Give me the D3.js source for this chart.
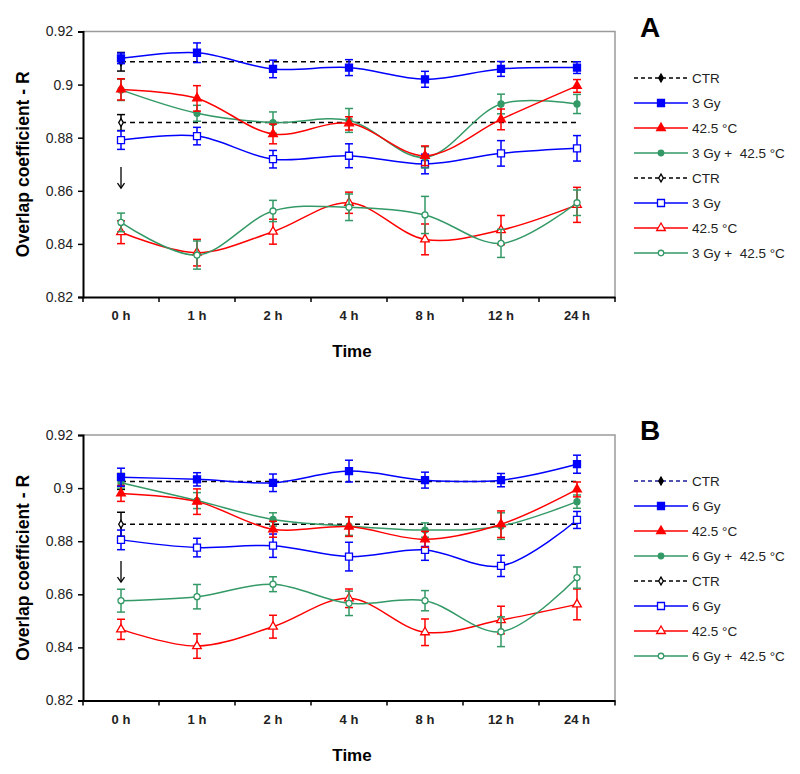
<!DOCTYPE html>
<html><head><meta charset="utf-8">
<script src="https://cdn.jsdelivr.net/npm/d3@7"></script>
<style>body{margin:0;background:#fff}svg{display:block}text{white-space:pre}</style>
</head><body>
<svg id="chart" width="800" height="774"></svg>
<script>
const times = ["0 h","1 h","2 h","4 h","8 h","12 h","24 h"];
const yTicks = [0.82,0.84,0.86,0.88,0.9,0.92];

// Panel A
const aCtrFilled = [0.9086], aCtrFilledErr = [0.0035];
const aCtrOpen = [0.8857], aCtrOpenErr = [0.003];
const a3GyFilled = [0.9099,0.912,0.9059,0.9064,0.902,0.9059,0.9064];
const a3GyFilledErr = [0.002,0.0037,0.0033,0.003,0.003,0.0028,0.0022];
const a425Filled = [0.8982,0.8948,0.8814,0.8854,0.8732,0.8869,0.8995];
const a425FilledErr = [0.004,0.0048,0.0037,0.0025,0.0037,0.0039,0.0024];
const aComboFilled = [0.898,0.8892,0.8857,0.8865,0.8726,0.8927,0.8927];
const aComboFilledErr = [0.004,0.003,0.004,0.0045,0.004,0.0037,0.0036];
const a3GyOpen = [0.8791,0.8806,0.8719,0.8732,0.8701,0.8741,0.876];
const a3GyOpenErr = [0.0035,0.0033,0.0033,0.0045,0.0037,0.0048,0.0048];
const a425Open = [0.8444,0.8367,0.8446,0.8555,0.8417,0.8452,0.8547];
const a425OpenErr = [0.0043,0.005,0.0047,0.004,0.0058,0.0055,0.0066];
const aComboOpen = [0.8481,0.8358,0.8524,0.8538,0.8509,0.8402,0.8555];
const aComboOpenErr = [0.0035,0.0053,0.004,0.005,0.007,0.0053,0.0048];

// Panel B
const bCtrFilled = [0.9025], bCtrFilledErr = [0.003];
const bCtrOpen = [0.8864], bCtrOpenErr = [0.0045];
const b6GyFilled = [0.9041,0.9033,0.902,0.9064,0.903,0.903,0.909];
const b6GyFilledErr = [0.0034,0.0025,0.0033,0.0041,0.003,0.0025,0.0034];
const b425Filled = [0.898,0.8949,0.8845,0.8855,0.8807,0.8864,0.8995];
const b425FilledErr = [0.003,0.0048,0.003,0.0037,0.003,0.005,0.0028];
const bComboFilled = [0.902,0.8953,0.8882,0.8857,0.8842,0.8857,0.8949];
const bComboFilledErr = [0.002,0.003,0.0025,0.0035,0.0027,0.005,0.0025];
const b6GyOpen = [0.8805,0.8776,0.8783,0.8742,0.8767,0.8707,0.888];
const b6GyOpenErr = [0.0037,0.0035,0.0044,0.0054,0.0039,0.004,0.0032];
const b425Open = [0.8468,0.8405,0.8478,0.8585,0.8457,0.8503,0.8562];
const b425OpenErr = [0.0038,0.0046,0.0043,0.0035,0.005,0.0052,0.0058];
const bComboOpen = [0.8576,0.8591,0.8638,0.8566,0.8576,0.8459,0.8663];
const bComboOpenErr = [0.0043,0.0046,0.0028,0.0046,0.0038,0.0056,0.004];

const legendA = ["CTR","3 Gy","42.5 °C","3 Gy +  42.5 °C","CTR","3 Gy","42.5 °C","3 Gy +  42.5 °C"];
const legendB = ["CTR","6 Gy","42.5 °C","6 Gy +  42.5 °C","CTR","6 Gy","42.5 °C","6 Gy +  42.5 °C"];

const BLUE="#0000ff", RED="#ff0000", GREEN="#339966", BLACK="#000";
const FONT="'Liberation Sans', Arial, sans-serif";
const svg = d3.select("#chart");

function panel(cfg){
  const g = svg.append("g");
  const x = d3.scaleBand().domain(times).range([83,615]);
  const y = d3.scaleLinear().domain([0.82,0.92]).range([cfg.bottom, cfg.top]);
  g.append("path").attr("d",`M83,${cfg.top}H615V${cfg.bottom}`).attr("fill","none").attr("stroke","#9a9a9a").attr("stroke-width",1.5);
  const ya = g.append("g").attr("transform","translate(83,0)")
    .call(d3.axisLeft(y).tickValues(yTicks).tickSize(5).tickFormat(d=>d===0.9?"0.9":d3.format(".2f")(d)));
  ya.select(".domain").attr("stroke-width",2);
  ya.selectAll(".tick line").attr("stroke-width",1.5);
  ya.selectAll("text").attr("font-family",FONT).attr("font-size",14).attr("fill","#222").attr("dx",-2);
  const xa = g.append("g").attr("transform",`translate(0,${cfg.bottom})`)
    .call(d3.axisBottom(x).tickSize(0).tickPadding(14));
  xa.select(".domain").attr("stroke-width",2);
  xa.selectAll("text").attr("font-family",FONT).attr("font-size",13).attr("font-weight","bold").attr("fill","#222");
  const bounds = times.map(t=>x(t)).concat([615]);
  g.append("g").selectAll("line").data(bounds).join("line")
    .attr("x1",d=>d).attr("x2",d=>d).attr("y1",cfg.bottom).attr("y2",cfg.bottom+5)
    .attr("stroke","#000").attr("stroke-width",1.5);
  g.append("text").attr("x",352).attr("y",cfg.bottom+60).attr("text-anchor","middle")
    .attr("font-family",FONT).attr("font-weight","bold").attr("font-size",17).text("Time");
  g.append("text").attr("transform",`translate(29,${(cfg.top+cfg.bottom)/2}) rotate(-90)`).attr("text-anchor","middle")
    .attr("font-family",FONT).attr("font-weight","bold").attr("font-size",17.5).text("Overlap coefficient - R");
  g.append("text").attr("x",640).attr("y",cfg.top+5).attr("font-family",FONT).attr("font-weight","bold")
    .attr("font-size",28).text(cfg.label);

  const cx = t=>x(t)+x.bandwidth()/2;
  const line = d3.line().x((d,i)=>cx(times[i])).y(d=>y(d)).curve(d3.curveCatmullRom.alpha(0.5));

  function marker(sel, shape, color, filled, size){
    const fill = filled?color:"#fff";
    let sym;
    if(shape==="square") sym=d3.symbol(d3.symbolSquare, size*size);
    else if(shape==="triangle") sym=d3.symbol(d3.symbolTriangle, size*size*0.45);
    else if(shape==="circle") sym=d3.symbol(d3.symbolCircle, size*size*0.785);
    else sym=d3.symbol(d3.symbolDiamond, size*size*0.5);
    sel.append("path").attr("d",sym).attr("fill",fill).attr("stroke",color).attr("stroke-width",1.3);
  }
  function errBars(vals, errs, color, n){
    const eg = g.append("g").attr("stroke",color).attr("stroke-width",1.5);
    vals.slice(0,n).forEach((v,i)=>{
      const xx=cx(times[i]), y1=y(v+errs[i]), y2=y(v-errs[i]);
      eg.append("line").attr("x1",xx).attr("x2",xx).attr("y1",y1).attr("y2",y2);
      eg.append("line").attr("x1",xx-4).attr("x2",xx+4).attr("y1",y1).attr("y2",y1);
      eg.append("line").attr("x1",xx-4).attr("x2",xx+4).attr("y1",y2).attr("y2",y2);
    });
  }
  function ctr(val, err, filled){
    g.append("line").attr("x1",cx(times[0])).attr("x2",cx(times[times.length-1]))
      .attr("y1",y(val[0])).attr("y2",y(val[0])).attr("stroke",BLACK).attr("stroke-width",1.5).attr("stroke-dasharray","5,4");
    errBars(val, err, BLACK, 1);
    const m = g.append("g").attr("transform",`translate(${cx(times[0])},${y(val[0])})`);
    marker(m,"diamond",BLACK,filled,6);
  }
  function series(vals, errs, color, shape, filled, size){
    errBars(vals, errs, color, vals.length);
    g.append("path").datum(vals).attr("d",line).attr("fill","none").attr("stroke",color).attr("stroke-width",1.5);
    g.append("g").selectAll("g").data(vals).join("g")
      .attr("transform",(d,i)=>`translate(${cx(times[i])},${y(d)})`)
      .each(function(){ marker(d3.select(this),shape,color,filled,size); });
  }
  ctr(cfg.ctrF, cfg.ctrFE, true);
  ctr(cfg.ctrO, cfg.ctrOE, false);
  series(cfg.s1O, cfg.s1OE, BLUE, "square", false, 7);
  series(cfg.s2O, cfg.s2OE, RED, "triangle", false, 8.5);
  series(cfg.s3O, cfg.s3OE, GREEN, "circle", false, 6);
  series(cfg.s3F, cfg.s3FE, GREEN, "circle", true, 6);
  series(cfg.s2F, cfg.s2FE, RED, "triangle", true, 8.5);
  series(cfg.s1F, cfg.s1FE, BLUE, "square", true, 7);

  // arrow annotation
  const ax = cx(times[0]);
  const yA0 = y(cfg.arrow[0]), yA1 = y(cfg.arrow[1]);
  g.append("line").attr("x1",ax).attr("x2",ax).attr("y1",yA0).attr("y2",yA1).attr("stroke","#000").attr("stroke-width",1.3);
  g.append("path").attr("d",`M${ax-3.5},${yA1-5}L${ax},${yA1}L${ax+3.5},${yA1-5}`).attr("fill","none").attr("stroke","#000").attr("stroke-width",1.3);

  const styles = [
    {c:cfg.legCtrColor,shape:"diamond",f:true,dash:true,s:6},
    {c:BLUE,shape:"square",f:true,s:7},
    {c:RED,shape:"triangle",f:true,s:8.5},
    {c:GREEN,shape:"circle",f:true,s:5.5},
    {c:BLACK,shape:"diamond",f:false,dash:true,s:6},
    {c:BLUE,shape:"square",f:false,s:7},
    {c:RED,shape:"triangle",f:false,s:8.5},
    {c:GREEN,shape:"circle",f:false,s:5.5}
  ];
  const lg = g.append("g");
  cfg.legend.forEach((t,i)=>{
    const st=styles[i], yy=cfg.legTop+i*25;
    lg.append("line").attr("x1",634).attr("x2",688).attr("y1",yy).attr("y2",yy)
      .attr("stroke",st.c).attr("stroke-width",1.5).attr("stroke-dasharray",st.dash?"4,3":null);
    const m=lg.append("g").attr("transform",`translate(661,${yy})`);
    marker(m,st.shape,i===0?BLACK:st.c,st.f,st.s);
    lg.append("text").attr("x",692).attr("y",yy+5).attr("font-family",FONT).attr("font-size",13.5).attr("fill","#222").text(t);
  });
}

panel({top:31.5,bottom:297,label:"A",legTop:78,legend:legendA,legCtrColor:BLACK,arrow:[0.869,0.861],
  ctrF:aCtrFilled,ctrFE:aCtrFilledErr,ctrO:aCtrOpen,ctrOE:aCtrOpenErr,
  s1F:a3GyFilled,s1FE:a3GyFilledErr,s2F:a425Filled,s2FE:a425FilledErr,s3F:aComboFilled,s3FE:aComboFilledErr,
  s1O:a3GyOpen,s1OE:a3GyOpenErr,s2O:a425Open,s2OE:a425OpenErr,s3O:aComboOpen,s3OE:aComboOpenErr});
panel({top:435,bottom:700.5,label:"B",legTop:481,legend:legendB,legCtrColor:"#1a1a99",arrow:[0.8725,0.8646],
  ctrF:bCtrFilled,ctrFE:bCtrFilledErr,ctrO:bCtrOpen,ctrOE:bCtrOpenErr,
  s1F:b6GyFilled,s1FE:b6GyFilledErr,s2F:b425Filled,s2FE:b425FilledErr,s3F:bComboFilled,s3FE:bComboFilledErr,
  s1O:b6GyOpen,s1OE:b6GyOpenErr,s2O:b425Open,s2OE:b425OpenErr,s3O:bComboOpen,s3OE:bComboOpenErr});
</script>
</body></html>
